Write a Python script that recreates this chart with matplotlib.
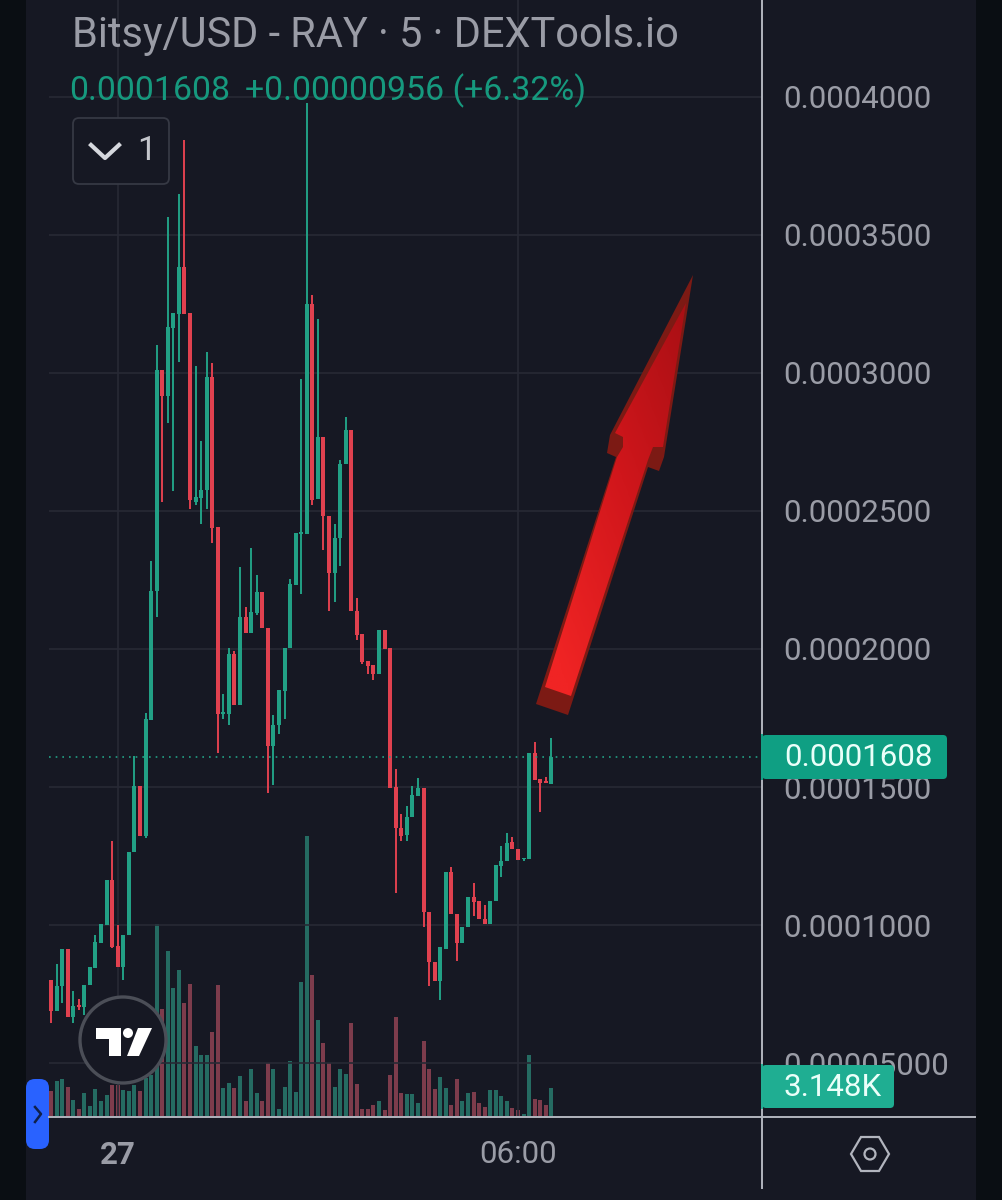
import numpy as np
import matplotlib
matplotlib.use("Agg")
import matplotlib.pyplot as plt
from matplotlib import patches
from matplotlib.path import Path

plt.rcParams['font.family'] = ['Roboto', 'DejaVu Sans']

# Candle values, in units of 0.0000001 USD
opens = [800, 688, 779, 913, 666, 710, 702, 782, 844, 935, 1000, 1163, 924, 848, 964, 1265, 1504, 1323, 1743, 2210,
         3011, 2917, 3163, 3214, 3384, 3217, 2533, 2547, 2576, 2986, 2442, 1765, 1765, 1982, 1797, 2116, 2058, 2131, 2207, 2076,
         1649, 1725, 1848, 2004, 2232, 2417, 2417, 3250, 2544, 2768, 2482, 2275, 2402, 2670, 2793, 2138, 2055, 1957, 1942, 1910,
         2069, 2004, 1500, 1352, 1326, 1391, 1467, 1496, 1047, 866, 797, 913, 1192, 1040, 935, 993, 1102, 1087, 1022, 1004,
         1087, 1214, 1232, 1301, 1275, 1239, 1239, 1623, 1529, 1522, 1511]
highs = [800, 859, 913, 913, 761, 732, 782, 848, 964, 1004, 1163, 1304, 1000, 964, 1265, 1612, 1504, 1768, 2319, 3101,
         3011, 3565, 3217, 3648, 3844, 3217, 3025, 2754, 3076, 3036, 2442, 1837, 2004, 1993, 2297, 2152, 2366, 2268, 2207, 2076,
         1761, 1851, 2004, 2254, 2420, 2978, 3978, 3283, 3196, 2768, 2482, 2453, 2685, 2841, 2793, 2185, 2055, 1957, 1942, 2069,
         2069, 2004, 1565, 1402, 1431, 1504, 1533, 1496, 1047, 866, 920, 1192, 1210, 1040, 993, 1102, 1152, 1087, 1073, 1087,
         1217, 1286, 1333, 1319, 1275, 1243, 1623, 1663, 1529, 1536, 1678]
lows = [645, 688, 717, 666, 645, 692, 674, 782, 844, 935, 1000, 917, 848, 800, 964, 1265, 1323, 1315, 1743, 2116,
        2533, 2819, 2572, 3040, 3214, 2507, 2522, 2453, 2507, 2384, 1623, 1746, 1725, 1797, 1797, 2058, 2058, 2123, 2076, 1478,
        1507, 1692, 1746, 2004, 2232, 2199, 2417, 2522, 2544, 2359, 2138, 2170, 2301, 2670, 2138, 2033, 1946, 1910, 1888, 1910,
        2000, 1496, 1116, 1304, 1304, 1391, 1467, 993, 779, 797, 728, 913, 1040, 870, 935, 993, 1033, 1022, 1004, 1004,
        1087, 1174, 1232, 1275, 1236, 1232, 1239, 1525, 1409, 1515, 1511]
closes = [688, 779, 913, 666, 706, 702, 782, 848, 938, 1004, 1163, 920, 848, 964, 1265, 1504, 1323, 1746, 2210, 3011,
          2917, 3167, 3217, 3384, 3214, 2540, 2551, 2576, 2986, 2438, 1765, 1768, 1982, 1797, 2116, 2058, 2134, 2207, 2076, 1649,
          1725, 1851, 2004, 2236, 2420, 2424, 3250, 2540, 2768, 2482, 2275, 2402, 2670, 2793, 2138, 2051, 1953, 1939, 1910, 2069,
          2000, 1496, 1352, 1323, 1391, 1471, 1496, 1047, 866, 797, 920, 1192, 1040, 935, 993, 1102, 1083, 1022, 1004, 1087,
          1217, 1232, 1297, 1275, 1236, 1243, 1623, 1525, 1515, 1515, 1608]

# Volume of each candle, in thousands
volumes = [2.8, 3.9, 4.2, 3.3, 1.8, 0.8, 2.6, 1.1, 3.0, 1.7, 2.4, 3.5, 3.5, 2.9, 2.8, 3.5, 2.8, 4.3, 4.6, 21.6,
           12.0, 18.5, 14.4, 16.4, 12.7, 14.8, 7.9, 6.9, 6.9, 9.4, 14.7, 3.1, 3.7, 3.1, 4.5, 1.7, 5.3, 2.6, 1.7, 6.0,
           5.3, 0.8, 3.3, 6.2, 2.7, 15.1, 31.5, 15.8, 10.8, 8.2, 6.0, 3.3, 5.3, 4.7, 10.5, 3.6, 0.8, 0.8, 1.2, 1.7,
           0.7, 4.6, 11.1, 2.6, 2.5, 2.5, 1.5, 8.4, 5.3, 3.0, 4.4, 3.1, 1.2, 4.2, 1.7, 2.6, 2.7, 1.5, 1.0, 2.9,
           2.9, 2.2, 1.7, 0.9, 0.7, 0.2, 6.9, 1.9, 1.8, 1.2, 3.148]

price_ticks = [500, 1000, 1500, 2000, 2500, 3000, 3500, 4000]
price_labels = ["0.00005000", "0.0001000", "0.0001500", "0.0002000", "0.0002500", "0.0003000", "0.0003500", "0.0004000"]
time_ticks = [12, 84]
time_labels = ["27", "06:00"]
last_price = 1608

# Colours
bg_inner = "#161823"
bg_outer = "#0a0e13"
up_col = "#22a085"
down_col = "#e0414f"
up_vol = "#256b62"
down_vol = "#7d3c4c"
grid_col = "#272935"
text_col = "#9a9ca6"
line_col = "#b2b5be"

# Page geometry in pixels
W, H = 1002, 1200
chart_left, chart_right = 49, 762
chart_bottom = 1116
candle_x0, candle_step = 51.0, 5.56


def px_rect(left, top, right, bottom):
    return [left / W, 1 - bottom / H, (right - left) / W, (bottom - top) / H]


fig = plt.figure(figsize=(W / 100, H / 100), dpi=100, facecolor=bg_inner)

n = len(opens)
x = np.arange(n)
xlim = ((chart_left - candle_x0) / candle_step, (chart_right - candle_x0) / candle_step)
is_up = [c >= o for o, c in zip(opens, closes)]

# Volume bars sit behind the candles
vol_ax = fig.add_axes(px_rect(chart_left, 0, chart_right, chart_bottom), zorder=1)
vol_ax.bar(x, volumes, width=0.72, color=[up_vol if u else down_vol for u in is_up])
vol_ax.set_xlim(xlim)
vol_ax.set_ylim(0, chart_bottom / 8.9)
vol_ax.axis("off")

# Candles, grid and the price scale
ax = fig.add_axes(px_rect(chart_left, 0, chart_right, chart_bottom), zorder=2)
ax.patch.set_alpha(0)
ax.set_axisbelow(True)
colors = [up_col if u else down_col for u in is_up]
ax.vlines(x, lows, highs, colors=colors, lw=1.4)
body_low = [min(o, c) for o, c in zip(opens, closes)]
body_h = [max(abs(o - c), 5) for o, c in zip(opens, closes)]
ax.bar(x, body_h, bottom=body_low, width=0.72, color=colors)
ax.axhline(last_price, color=up_col, lw=1.2, ls=(0, (1, 3)))

ax.set_xlim(xlim)
ax.set_ylim(308, 4351.4)
ax.yaxis.tick_right()
ax.set_yticks(price_ticks)
ax.set_yticklabels(price_labels, fontsize=22.5, color=text_col)
ax.set_xticks(time_ticks)
ax.set_xticklabels(time_labels, fontsize=22.5, color=text_col)
ax.get_xticklabels()[0].set_fontweight("bold")
ax.tick_params(axis="y", length=0, pad=15)
ax.tick_params(axis="x", length=0, pad=17)
ax.grid(True, color=grid_col, lw=1.2)
for s in ax.spines.values():
    s.set_visible(False)

# Everything drawn over the chart, in screen pixels
deco = fig.add_axes([0, 0, 1, 1], zorder=3)
deco.set_xlim(0, W)
deco.set_ylim(H, 0)
deco.axis("off")

# Dark strips left and right of the phone screen
deco.add_patch(patches.Rectangle((0, 0), 26, H, color=bg_outer, lw=0))
deco.add_patch(patches.Rectangle((976, 0), W - 976, H, color=bg_outer, lw=0))

# Axis frame
deco.plot([762, 762], [0, 1188], color=line_col, lw=1.4)
deco.plot([49, 975], [1116.5, 1116.5], color=line_col, lw=1.4)

# Header
deco.text(72, 35, "Bitsy/USD - RAY · 5 · DEXTools.io", fontsize=29.9, color=text_col, va="center")
deco.text(69, 91, "0.0001608", fontsize=24.4, color="#16997e", va="center")
deco.text(245, 91, "+0.00000956 (+6.32%)", fontsize=24.4, color="#16997e", va="center")

# Collapse button
deco.add_patch(patches.FancyBboxPatch((77, 122), 88, 58, boxstyle="round,pad=4,rounding_size=6",
                                      fc=bg_inner, ec="#363944", lw=1.3))
deco.plot([91, 105, 119], [145, 158, 145], color="#d6d8de", lw=3)
deco.text(137, 151, "1", fontsize=24, color="#c4c6cc", va="center")

# Last price and volume tags
deco.add_patch(patches.FancyBboxPatch((766, 739), 177, 36, boxstyle="round,pad=4,rounding_size=4",
                                      fc="#0f9f83", ec="none"))
deco.plot([762, 762], [735, 779], color="#0f9f83", lw=1.4)
deco.text(784, 758, "0.0001608", fontsize=22.5, color="#eafff9", va="center")
deco.add_patch(patches.FancyBboxPatch((766, 1069), 124, 35, boxstyle="round,pad=4,rounding_size=4",
                                      fc="#1fae92", ec="none"))
deco.plot([762, 762], [1065, 1108], color="#1fae92", lw=1.4)
deco.text(784, 1087, "3.148K", fontsize=22.5, color="#eafff9", va="center")

# Logo badge
deco.add_patch(patches.Circle((123, 1040), 43, fc=bg_inner, ec="#4b4e57", lw=2.4))
deco.add_patch(patches.Polygon([(96, 1028), (121, 1028), (121, 1056), (109, 1056), (109, 1039), (96, 1039)],
                               fc="white", ec="none"))
deco.add_patch(patches.Circle((128, 1033), 5, fc="white", ec="none"))
deco.add_patch(patches.Polygon([(138, 1028), (152, 1028), (139, 1056), (127, 1056)], fc="white", ec="none"))

# Blue side handle
deco.add_patch(patches.FancyBboxPatch((35, 1088), 5, 52, boxstyle="round,pad=9,rounding_size=9",
                                      fc="#2962ff", ec="none"))
deco.plot([35, 41, 35], [1107, 1114, 1122], color="#10204a", lw=1.8)

# Settings hexagon
deco.add_patch(patches.Polygon([(851, 1154), (861, 1137), (879, 1137), (889, 1154), (879, 1171), (861, 1171)],
                               fc="none", ec=line_col, lw=1.6))
deco.add_patch(patches.Circle((870, 1154), 5.5, fc="none", ec=line_col, lw=1.6))

# Red arrow pasted over the chart: dark rim, then gradient face
rim = [(693, 275), (664, 457), (659, 471), (648, 467), (568, 715), (536, 704), (616, 457), (607, 453), (610, 435)]
deco.add_patch(patches.Polygon(rim, fc="#7c1a14", ec="none", zorder=4))
face = [(686, 303), (663, 447), (653, 447), (648, 460), (571, 696), (545, 687), (617, 457), (623, 447), (623, 437),
        (615, 433)]
gx, gy = np.meshgrid(np.linspace(0, 1, 80), np.linspace(0, 1, 200))
grad = np.clip(0.55 * (1 - gx) + 0.6 * gy, 0, 1)
cmap = matplotlib.colors.LinearSegmentedColormap.from_list("arrow", ["#a80f14", "#d0161b", "#f02424"])
im = deco.imshow(grad, cmap=cmap, extent=(536, 693, 715, 275), aspect="auto", zorder=5, vmin=0.05, vmax=1)
im.set_clip_path(patches.PathPatch(Path(face + [face[0]]), transform=deco.transData))
deco.set_xlim(0, W)
deco.set_ylim(H, 0)

fig.savefig("out.png", dpi=100, facecolor=fig.get_facecolor())
